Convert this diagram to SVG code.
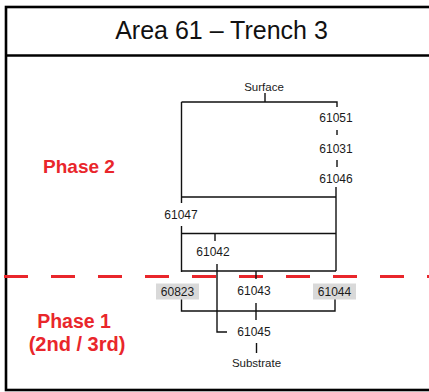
<svg xmlns="http://www.w3.org/2000/svg" width="429" height="392" viewBox="0 0 429 392">
<style>
.t{font-family:"Liberation Sans",Arial,sans-serif;font-size:12px;fill:#1a1a1a;text-anchor:middle}
.ph{font-family:"Liberation Sans",Arial,sans-serif;font-size:19px;font-weight:bold;fill:#e9262b;text-anchor:middle}
.ln{fill:none;stroke:#111;stroke-width:1.4}
.box{fill:#d9d9d9;stroke:none}
</style>
<rect x="0" y="0" width="429" height="392" fill="#fff"/>
<g id="frame">
<rect x="6" y="7" width="440" height="383" fill="none" stroke="#000" stroke-width="2.6"/>
<line x1="6" y1="55.5" x2="440" y2="55.5" stroke="#000" stroke-width="2.6"/>
<text x="221.5" y="39" font-family="Liberation Sans,Arial,sans-serif" font-size="25" fill="#111" text-anchor="middle">Area 61 – Trench 3</text>
</g>
<g id="phase-divider">
<line x1="4" y1="276.5" x2="429" y2="276.5" stroke="#e9262b" stroke-width="3" stroke-dasharray="24 23"/>
</g>
<g id="phase2"><text class="ph" x="79" y="173">Phase 2</text></g>
<g id="phase1"><text class="ph" x="74" y="328" style="font-size:19.5px">Phase 1</text><text class="ph" x="77" y="351" style="font-size:20px">(2nd / 3rd)</text></g>
<g id="connectors">
<path class="ln" d="M265,93 V102 M181.5,102 H337 V107 M181.5,102 V203"/>
<path class="ln" d="M337,130 V135 M337,160 V167"/>
<path class="ln" d="M181.5,197 H336 M336,187 V271"/>
<path class="ln" d="M181.5,226 V272 M181.5,233.5 H336 M215,233.5 V241"/>
<path class="ln" d="M181.5,271 H336 M256,271 V279"/>
<path class="ln" d="M217,264 V332 H227"/>
<path class="ln" d="M181.5,299 V311 H335 V299 M256,303 V320"/>
<path class="ln" d="M256.5,343 V353"/>
</g>
<g id="surface"><text class="t" x="264" y="91" style="font-size:11.5px">Surface</text></g>
<g id="n61051"><text class="t" x="336" y="121.5">61051</text></g>
<g id="n61031"><text class="t" x="336" y="152.5">61031</text></g>
<g id="n61046"><text class="t" x="336" y="182.5">61046</text></g>
<g id="n61047"><text class="t" x="181" y="218.5">61047</text></g>
<g id="n61042"><text class="t" x="213" y="256">61042</text></g>
<g id="n60823"><rect class="box" x="156" y="283.5" width="43" height="16"/><text class="t" x="177.5" y="296">60823</text></g>
<g id="n61043"><text class="t" x="254" y="294.5">61043</text></g>
<g id="n61044"><rect class="box" x="313" y="283.5" width="43" height="16"/><text class="t" x="334.5" y="296">61044</text></g>
<g id="n61045"><text class="t" x="254" y="335.5">61045</text></g>
<g id="substrate"><text class="t" x="256.5" y="367" style="font-size:11.5px">Substrate</text></g>
</svg>
